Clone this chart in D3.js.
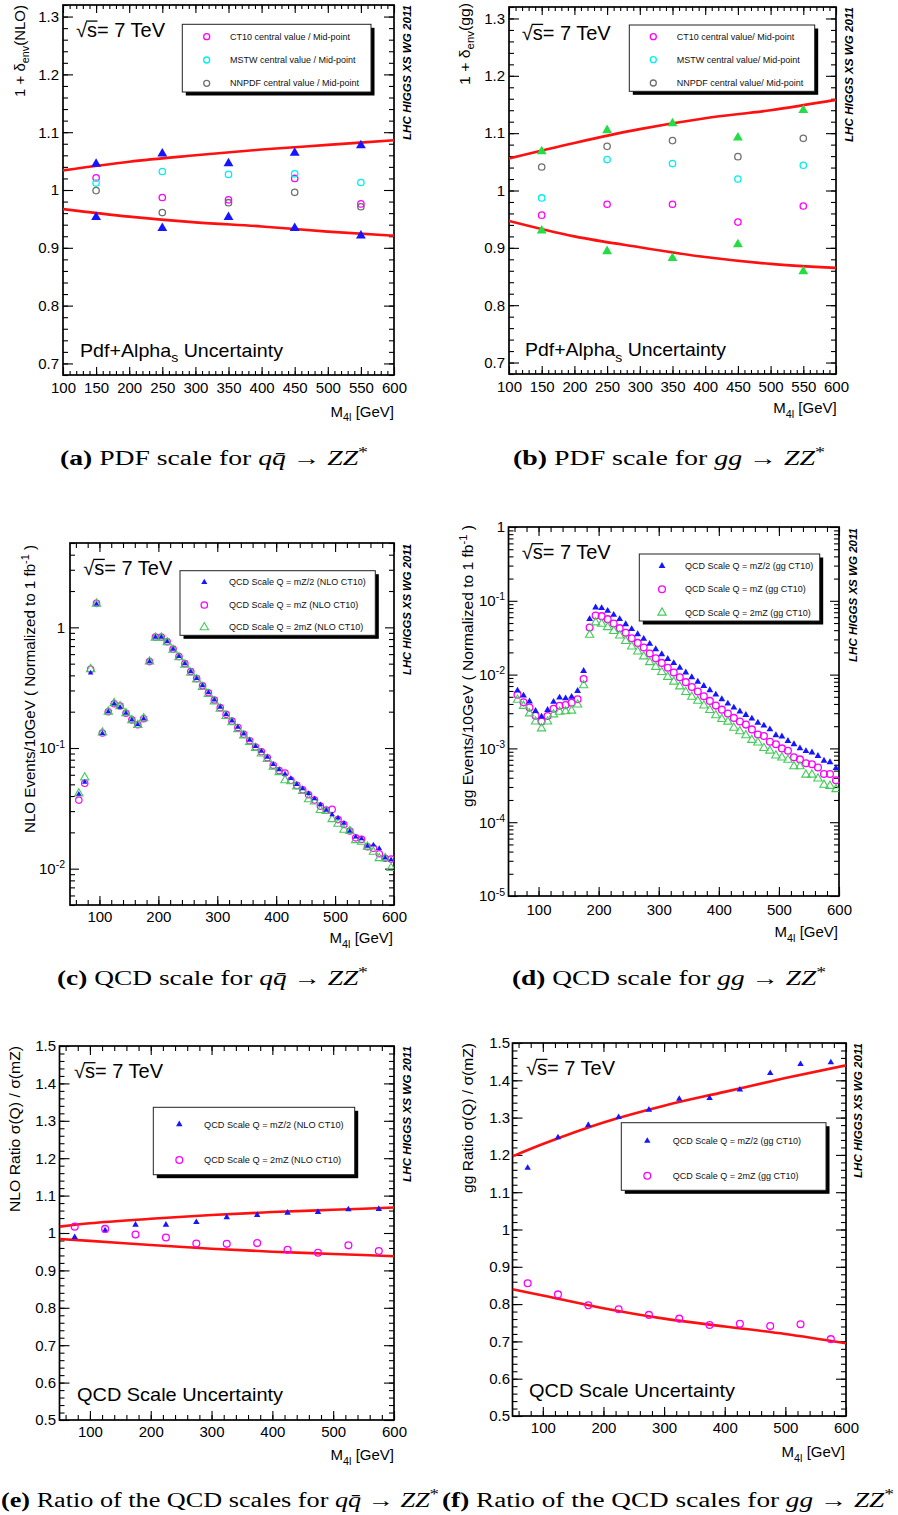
<!DOCTYPE html>
<html><head><meta charset="utf-8">
<script src="https://cdn.jsdelivr.net/npm/d3@7"></script>
<style>body{margin:0;background:#fff} svg{display:block}</style>
</head><body><script>
// ---------------- DATA ----------------
// (a) PDF, qqbar
const pdfMass = [150,250,350,450,550];
const qqEnvUp = [1.045,1.063,1.046,1.064,1.077];
const qqEnvDown = [0.953,0.934,0.953,0.934,0.921];
const qqCT10 = [1.021,0.987,0.983,1.020,0.976];
const qqMSTW = [1.012,1.032,1.027,1.028,1.013];
const qqNNPDF = [0.999,0.961,0.978,0.996,0.971];
const fitMassAB = [100,200,300,400,500,600];
const qqFitUp = [1.034,1.049,1.060,1.070,1.078,1.086];
const qqFitDown = [0.967,0.954,0.944,0.937,0.928,0.921];
// (b) PDF, gg
const ggEnvUp = [1.068,1.105,1.117,1.092,1.140];
const ggEnvDown = [0.930,0.894,0.882,0.906,0.859];
const ggCT10 = [0.957,0.976,0.976,0.945,0.973];
const ggMSTW = [0.987,1.054,1.047,1.020,1.044];
const ggNNPDF = [1.041,1.077,1.087,1.059,1.091];
const ggFitUp = [1.056,1.083,1.107,1.126,1.140,1.158];
const ggFitDown = [0.947,0.920,0.901,0.884,0.872,0.865];
// (c),(d) spectra, bin centres
const binMass = [65,75,85,95,105,115,125,135,145,155,165,175,185,195,205,215,225,235,245,255,265,275,285,295,305,315,325,335,345,355,365,375,385,395,405,415,425,435,445,455,465,475,485,495,505,515,525,535,545,555,565,575,585,595];
const qqHalf = [0.0415,0.052,0.42,1.56,0.132,0.20,0.233,0.218,0.194,0.171,0.156,0.175,0.52,0.83,0.83,0.76,0.66,0.574,0.50,0.43,0.377,0.328,0.287,0.25,0.218,0.19,0.168,0.149,0.131,0.116,0.103,0.094,0.084,0.073,0.066,0.061,0.056,0.050,0.046,0.042,0.038,0.034,0.0306,0.028,0.0263,0.0238,0.0205,0.0183,0.0177,0.0154,0.0157,0.0147,0.0123,0.0119];
const qqMZ = [0.037,0.051,0.45,1.58,0.133,0.20,0.233,0.223,0.194,0.171,0.156,0.175,0.52,0.83,0.83,0.76,0.66,0.574,0.50,0.43,0.377,0.328,0.287,0.25,0.216,0.19,0.167,0.148,0.130,0.115,0.102,0.093,0.083,0.072,0.065,0.062,0.054,0.049,0.045,0.041,0.037,0.033,0.0306,0.031,0.0255,0.0232,0.0205,0.0180,0.0175,0.0152,0.0148,0.0133,0.0122,0.0120];
const qqTwo = [0.042,0.057,0.45,1.57,0.134,0.20,0.235,0.222,0.194,0.170,0.155,0.176,0.52,0.82,0.82,0.75,0.65,0.565,0.49,0.42,0.37,0.32,0.28,0.243,0.211,0.184,0.163,0.143,0.127,0.112,0.100,0.090,0.081,0.070,0.063,0.054,0.053,0.048,0.044,0.0375,0.036,0.0306,0.030,0.0257,0.0235,0.021,0.0205,0.0172,0.0167,0.0152,0.0138,0.0122,0.0122,0.0101];
const ggHalf = [0.00607,0.00519,0.00433,0.00321,0.00270,0.00331,0.00428,0.00487,0.00476,0.00500,0.00601,0.0112,0.0564,0.0812,0.0795,0.0732,0.0646,0.0564,0.0482,0.0413,0.0353,0.0305,0.0261,0.0221,0.0189,0.0163,0.0143,0.0124,0.0107,0.0092,0.00802,0.00701,0.00613,0.00535,0.00464,0.00404,0.00357,0.00316,0.00284,0.00253,0.00223,0.00204,0.00181,0.00151,0.00145,0.00126,0.00114,0.00100,0.00092,0.00088,0.00079,0.00068,0.00065,0.00054];
const ggMZ = [0.00535,0.00421,0.00357,0.00277,0.00231,0.00275,0.00345,0.00379,0.00387,0.00416,0.00464,0.00872,0.0435,0.0632,0.0619,0.0564,0.0493,0.0426,0.0368,0.0311,0.0269,0.0233,0.0193,0.0166,0.0144,0.0124,0.0107,0.0092,0.0079,0.0068,0.0059,0.0051,0.0044,0.0038,0.00335,0.00297,0.00259,0.00231,0.00210,0.00181,0.00154,0.00147,0.00123,0.00114,0.00100,0.00093,0.00076,0.00071,0.00063,0.00061,0.00055,0.00045,0.00045,0.00037];
const ggTwo = [0.00455,0.00376,0.00297,0.00231,0.00186,0.00231,0.00288,0.00313,0.00317,0.00324,0.00392,0.00716,0.0345,0.0508,0.0487,0.0439,0.0388,0.0338,0.0284,0.0240,0.0205,0.0176,0.0147,0.0127,0.0108,0.0093,0.0080,0.0069,0.0058,0.0050,0.0044,0.0038,0.0033,0.0028,0.0025,0.0023,0.0019,0.0017,0.0015,0.0013,0.0012,0.00101,0.00093,0.00080,0.00075,0.00070,0.00057,0.00057,0.00044,0.00044,0.00039,0.00032,0.00031,0.00028];
// (e),(f) ratios
const ratioMass = [75,125,175,225,275,325,375,425,475,525,575];
const qqRatioHalf = [0.989,1.007,1.022,1.022,1.029,1.042,1.048,1.054,1.056,1.063,1.064];
const qqRatioTwo = [1.017,1.011,0.996,0.988,0.972,0.971,0.973,0.955,0.947,0.967,0.952];
const fitMassEF = [50,100,200,300,400,500,600];
const qqRatioFitUp = [1.017,1.026,1.038,1.048,1.056,1.062,1.068];
const qqRatioFitDown = [0.984,0.979,0.968,0.958,0.950,0.944,0.938];
const ggRatioHalf = [1.165,1.247,1.280,1.301,1.321,1.350,1.352,1.375,1.419,1.443,1.448];
const ggRatioTwo = [0.856,0.826,0.797,0.786,0.771,0.761,0.744,0.747,0.741,0.746,0.706];
const ggRatioFitUp = [1.196,1.229,1.287,1.332,1.369,1.406,1.440];
const ggRatioFitDown = [0.840,0.823,0.789,0.761,0.740,0.720,0.695];
// ticks
const xTicksPDF = [100,150,200,250,300,350,400,450,500,550,600];
const yTicksPDF = [0.7,0.8,0.9,1,1.1,1.2,1.3];
const xTicksQCD = [100,200,300,400,500,600];
const yTicksRatio = [0.5,0.6,0.7,0.8,0.9,1,1.1,1.2,1.3,1.4,1.5];
const logTicksC = [0.01,0.1,1];
const logTicksD = [1e-5,1e-4,1e-3,1e-2,1e-1,1];

// ---------------- DRAWING ----------------
const SANS = "'Liberation Sans', Arial, Helvetica, sans-serif";
const SERIF = "'Liberation Serif', 'Times New Roman', serif";
const BLUE="#1515ff", MAG="#ff00ff", CYAN="#00f0f0", GRAY="#707070", GREENF="#22dd44", GREENO="#44cc5a", RED="#ff1010";
const svg = d3.select("body").append("svg").attr("width",898).attr("height",1515);

function rich(parent, x, y, parts, o){
  const t = parent.append("text").attr("x",x).attr("y",y).attr("font-size",o.fs)
    .attr("font-family",o.ff||SANS).attr("text-anchor",o.anchor||"start").attr("fill","#000");
  if(o.rot) t.attr("transform",`rotate(-90,${x},${y})`);
  if(o.weight) t.attr("font-weight",o.weight);
  if(o.style) t.attr("font-style",o.style);
  let off=0;
  parts.forEach(p=>{
    const s = typeof p==="string"?[p]:p; const k=(s[1]||"").split(" ");
    let tgt=0, fs=null;
    if(k.includes("sub")){tgt=0.3*o.fs; fs=0.72*o.fs;}
    if(k.includes("sup")){tgt=-0.42*o.fs; fs=0.72*o.fs;}
    const ts=t.append("tspan").text(s[0]);
    if(tgt-off!==0) ts.attr("dy",tgt-off);
    off=tgt;
    if(fs) ts.attr("font-size",fs);
    if(k.includes("it")) ts.attr("font-style","italic");
    if(k.includes("bf")) ts.attr("font-weight","bold");
  });
  if(o.len) t.attr("textLength",o.len).attr("lengthAdjust","spacingAndGlyphs");
  return t;
}

function makePanel(c){
  const g = svg.append("g");
  const x = d3.scaleLinear().domain(c.xd).range([c.L,c.R]);
  const y = (c.log?d3.scaleLog():d3.scaleLinear()).domain(c.yd).range([c.B,c.T]);
  const st = s=>{ s.select(".domain").remove(); s.attr("font-family",SANS).attr("font-size",15);
    s.selectAll(".tick line").attr("stroke","#000").attr("stroke-width",1.1);
    s.selectAll("text").attr("fill","#000"); };
  const fmtLin = d => Math.abs(d-1)<1e-9 ? "1" : d.toFixed(1);
  const yMinor = c.log ? y.ticks().filter(v=>Math.abs(Math.log10(v)-Math.round(Math.log10(v)))>1e-6) : c.yMinor;
  g.append("g").attr("transform",`translate(0,${c.B})`).call(d3.axisBottom(x).tickValues(c.xMajor).tickSize(-c.xMaj).tickPadding(c.xPad).tickFormat(d3.format("d"))).call(st);
  g.append("g").attr("transform",`translate(0,${c.B})`).call(d3.axisBottom(x).tickValues(c.xMinor).tickSize(-c.xMin).tickFormat("")).call(st);
  g.append("g").attr("transform",`translate(0,${c.T})`).call(d3.axisTop(x).tickValues(c.xMajor).tickSize(-c.xMaj).tickFormat("")).call(st);
  g.append("g").attr("transform",`translate(0,${c.T})`).call(d3.axisTop(x).tickValues(c.xMinor).tickSize(-c.xMin).tickFormat("")).call(st);
  const yl = g.append("g").attr("transform",`translate(${c.L},0)`).call(d3.axisLeft(y).tickValues(c.yMajor).tickSize(-c.yMaj).tickPadding(c.yPad).tickFormat(c.log?()=>"":fmtLin)).call(st);
  if(c.log){
    yl.selectAll(".tick text").each(function(d){
      const t=d3.select(this); const e=Math.round(Math.log10(d));
      if(e===0) t.text("1");
      else { t.append("tspan").text("10"); t.append("tspan").attr("dy","-0.55em").attr("font-size","0.7em").text(e); }
    });
  }
  g.append("g").attr("transform",`translate(${c.L},0)`).call(d3.axisLeft(y).tickValues(yMinor).tickSize(-c.yMin).tickFormat("")).call(st);
  g.append("g").attr("transform",`translate(${c.R},0)`).call(d3.axisRight(y).tickValues(c.yMajor).tickSize(-c.yMaj).tickFormat("")).call(st);
  g.append("g").attr("transform",`translate(${c.R},0)`).call(d3.axisRight(y).tickValues(yMinor).tickSize(-c.yMin).tickFormat("")).call(st);
  g.append("rect").attr("x",c.L).attr("y",c.T).attr("width",c.R-c.L).attr("height",c.B-c.T)
    .attr("fill","none").attr("stroke","#000").attr("stroke-width",1.7);
  const cid = "clip"+c.id;
  svg.append("clipPath").attr("id",cid).append("rect").attr("x",c.L).attr("y",c.T).attr("width",c.R-c.L).attr("height",c.B-c.T);
  const data = svg.append("g").attr("clip-path",`url(#${cid})`);
  return {x,y,data};
}

function line(P, xs, ys){
  P.data.append("path").datum(xs.map((m,i)=>[m,ys[i]]))
    .attr("d", d3.line().x(d=>P.x(d[0])).y(d=>P.y(d[1])).curve(d3.curveMonotoneX))
    .attr("fill","none").attr("stroke",RED).attr("stroke-width",2.6);
}
function tris(P, xs, ys, o){
  P.data.selectAll(null).data(xs.map((m,i)=>[m,ys[i]])).join("path")
    .attr("transform",d=>`translate(${P.x(d[0])},${P.y(d[1])})`)
    .attr("d", d3.symbol(d3.symbolTriangle, o.size))
    .attr("fill", o.fill||"none").attr("stroke", o.stroke||"none").attr("stroke-width", o.sw||1);
}
function circs(P, xs, ys, o){
  P.data.selectAll(null).data(xs.map((m,i)=>[m,ys[i]])).join("circle")
    .attr("cx",d=>P.x(d[0])).attr("cy",d=>P.y(d[1])).attr("r",o.r)
    .attr("fill","none").attr("stroke",o.stroke).attr("stroke-width",o.sw||1.3);
}
function legend(b, entries){
  const g=svg.append("g");
  g.append("rect").attr("x",b.L+3.5).attr("y",b.T+3.5).attr("width",b.R-b.L-3).attr("height",b.B-b.T-3).attr("fill","#000");
  g.append("rect").attr("x",b.L).attr("y",b.T).attr("width",b.R-b.L-3).attr("height",b.B-b.T-3).attr("fill","#fff").attr("stroke","#222").attr("stroke-width",1);
  entries.forEach(e=>{
    if(e.m==="c") g.append("circle").attr("cx",b.mx).attr("cy",e.y).attr("r",e.r).attr("fill","none").attr("stroke",e.col).attr("stroke-width",1.3);
    else g.append("path").attr("transform",`translate(${b.mx},${e.y})`).attr("d",d3.symbol(d3.symbolTriangle,e.size)())
      .attr("fill",e.m==="tf"?e.col:"none").attr("stroke",e.m==="tf"?"none":e.col).attr("stroke-width",1.1);
    g.append("text").attr("x",b.tx).attr("y",e.y).attr("dy","0.35em").attr("font-family",SANS).attr("font-size",b.fs).attr("fill","#111").text(e.label);
  });
}
function sqrtS(x,y,fs){
  const t = rich(svg,x,y,["√s= 7 TeV"],{fs,len:89});
  const n=t.node(); const e0=n.getExtentOfChar(0), e1=n.getExtentOfChar(1);
  svg.append("line").attr("x1",e0.x+e0.width-1).attr("x2",e1.x+e1.width+0.5)
    .attr("y1",y-0.80*fs).attr("y2",y-0.80*fs).attr("stroke","#000").attr("stroke-width",1.3);
}
function watermark(x,yBottom,len){
  rich(svg,x,yBottom,["LHC HIGGS XS WG 2011"],{fs:11,rot:true,weight:"bold",style:"italic",len});
}
const xTitle = (x,y)=>rich(svg,x,y,["M",["4l","sub"]," [GeV]"],{fs:15,anchor:"end"});

// ---------- panel (a) ----------
const A = makePanel({id:"a",L:63,R:394,T:5,B:375,xd:[100,600],yd:[0.68,1.32],
  xMajor:xTicksPDF,xMinor:d3.range(100,601,10),yMajor:yTicksPDF,yMinor:d3.range(0.68,1.3201,0.02),
  xMaj:8,xMin:4,yMaj:10,yMin:5,xPad:7,yPad:4});
line(A,fitMassAB,qqFitUp); line(A,fitMassAB,qqFitDown);
tris(A,pdfMass,qqEnvUp,{size:42,fill:BLUE}); tris(A,pdfMass,qqEnvDown,{size:42,fill:BLUE});
circs(A,pdfMass,qqCT10,{r:3.2,stroke:MAG}); circs(A,pdfMass,qqMSTW,{r:3.2,stroke:CYAN}); circs(A,pdfMass,qqNNPDF,{r:3.2,stroke:GRAY});
legend({L:182.3,T:24.3,R:374,B:95,mx:206.7,tx:230,fs:9},[
  {m:"c",r:3,col:MAG,y:36.7,label:"CT10 central value / Mid-point"},
  {m:"c",r:3,col:CYAN,y:60,label:"MSTW central value / Mid-point"},
  {m:"c",r:3,col:GRAY,y:83.3,label:"NNPDF central value / Mid-point"}]);
sqrtS(76,36.7,19.5);
rich(svg,80,356.7,["Pdf+Alpha",["s","sub"]," Uncertainty"],{fs:19,len:203});
rich(svg,24.5,97,["1 + δ",["env","sub"],"(NLO)"],{fs:14,rot:true,len:92});
xTitle(394,416.7);
watermark(411,140,135);

// ---------- panel (b) ----------
const B = makePanel({id:"b",L:509,R:836,T:7,B:374,xd:[100,600],yd:[0.68,1.32],
  xMajor:xTicksPDF,xMinor:d3.range(100,601,10),yMajor:yTicksPDF,yMinor:d3.range(0.68,1.3201,0.02),
  xMaj:8,xMin:4,yMaj:10,yMin:5,xPad:7,yPad:4});
line(B,fitMassAB,ggFitUp); line(B,fitMassAB,ggFitDown);
tris(B,pdfMass,ggEnvUp,{size:42,fill:GREENF}); tris(B,pdfMass,ggEnvDown,{size:42,fill:GREENF});
circs(B,pdfMass,ggCT10,{r:3.2,stroke:MAG}); circs(B,pdfMass,ggMSTW,{r:3.2,stroke:CYAN}); circs(B,pdfMass,ggNNPDF,{r:3.2,stroke:GRAY});
legend({L:629.3,T:25,R:817.7,B:94.3,mx:653.3,tx:676.7,fs:9},[
  {m:"c",r:3,col:MAG,y:36.7,label:"CT10 central value/ Mid-point"},
  {m:"c",r:3,col:CYAN,y:59.7,label:"MSTW central value/ Mid-point"},
  {m:"c",r:3,col:GRAY,y:83,label:"NNPDF central value/ Mid-point"}]);
sqrtS(521.7,40,19.5);
rich(svg,525,356,["Pdf+Alpha",["s","sub"]," Uncertainty"],{fs:19,len:201});
rich(svg,470,85,["1 + δ",["env","sub"],"(gg)"],{fs:14,rot:true,len:82});
xTitle(836.7,413);
watermark(853,142,135);

// ---------- panel (c) ----------
const C = makePanel({id:"c",L:70,R:394,T:543,B:905,xd:[50,600],yd:[0.005,5],log:true,
  xMajor:xTicksQCD,xMinor:d3.range(60,601,20),yMajor:logTicksC,
  xMaj:9,xMin:5,yMaj:9,yMin:5,xPad:6,yPad:5});
circs(C,binMass,qqMZ,{r:3.2,stroke:MAG,sw:1.2});
tris(C,binMass,qqTwo,{size:30,stroke:GREENO,sw:1.1});
tris(C,binMass,qqHalf,{size:13,fill:BLUE});
legend({L:180,T:570.7,R:378.3,B:638.3,mx:204.3,tx:229,fs:9},[
  {m:"tf",size:16,col:BLUE,y:582.3,label:"QCD Scale Q = mZ/2 (NLO CT10)"},
  {m:"c",r:3.2,col:MAG,y:605,label:"QCD Scale Q = mZ (NLO CT10)"},
  {m:"to",size:30,col:GREENO,y:627.3,label:"QCD Scale Q = 2mZ (NLO CT10)"}]);
sqrtS(83.3,575,19.5);
rich(svg,35,833,["NLO Events/10GeV ( Normalized to 1 fb",["-1","sup"]," )"],{fs:14,rot:true,len:288});
xTitle(393,943);
watermark(411,675,131);

// ---------- panel (d) ----------
const D = makePanel({id:"d",L:508.5,R:839,T:527,B:896,xd:[50,600],yd:[1e-5,1],log:true,
  xMajor:xTicksQCD,xMinor:d3.range(60,601,20),yMajor:logTicksD,
  xMaj:9,xMin:5,yMaj:9,yMin:5,xPad:8,yPad:3.5});
circs(D,binMass,ggMZ,{r:3.4,stroke:MAG,sw:1.3});
tris(D,binMass,ggTwo,{size:30,stroke:GREENO,sw:1.1});
tris(D,binMass,ggHalf,{size:20,fill:BLUE});
legend({L:639.3,T:554,R:822.7,B:624,mx:662,tx:685,fs:9},[
  {m:"tf",size:20,col:BLUE,y:566,label:"QCD Scale Q = mZ/2 (gg CT10)"},
  {m:"c",r:3.4,col:MAG,y:589.3,label:"QCD Scale Q = mZ (gg CT10)"},
  {m:"to",size:30,col:GREENO,y:612.7,label:"QCD Scale Q = 2mZ (gg CT10)"}]);
sqrtS(521.7,559.3,19.5);
rich(svg,473,807,["gg Events/10GeV ( Normalized to 1 fb",["-1","sup"]," )"],{fs:14,rot:true,len:282});
xTitle(838,937);
watermark(857,662,134);

// ---------- panel (e) ----------
const E = makePanel({id:"e",L:59.5,R:394,T:1046,B:1420,xd:[50,600],yd:[0.5,1.5],
  xMajor:xTicksQCD,xMinor:d3.range(60,601,20),yMajor:yTicksRatio,yMinor:d3.range(0.5,1.5001,0.02),
  xMaj:9,xMin:5,yMaj:10,yMin:5,xPad:6.5,yPad:3.5});
line(E,fitMassEF,qqRatioFitUp); line(E,fitMassEF,qqRatioFitDown);
tris(E,ratioMass,qqRatioHalf,{size:18,fill:BLUE});
circs(E,ratioMass,qqRatioTwo,{r:3.4,stroke:MAG});
legend({L:153.3,T:1107.3,R:357.7,B:1177.7,mx:179.3,tx:204,fs:9.2},[
  {m:"tf",size:18,col:BLUE,y:1124.3,label:"QCD Scale Q = mZ/2 (NLO CT10)"},
  {m:"c",r:3.4,col:MAG,y:1160,label:"QCD Scale Q = 2mZ (NLO CT10)"}]);
sqrtS(74,1078.3,19.5);
rich(svg,77,1400.7,["QCD Scale Uncertainty"],{fs:19,len:206});
rich(svg,20,1212,["NLO Ratio σ(Q) / σ(mZ)"],{fs:14,rot:true,len:166});
xTitle(394,1460);
watermark(411,1182,136);

// ---------- panel (f) ----------
const F = makePanel({id:"f",L:512.5,R:846,T:1043,B:1416,xd:[50,600],yd:[0.5,1.5],
  xMajor:xTicksQCD,xMinor:d3.range(60,601,20),yMajor:yTicksRatio,yMinor:d3.range(0.5,1.5001,0.02),
  xMaj:9,xMin:5,yMaj:10,yMin:5,xPad:6.5,yPad:2.5});
line(F,fitMassEF,ggRatioFitUp); line(F,fitMassEF,ggRatioFitDown);
tris(F,ratioMass,ggRatioHalf,{size:18,fill:BLUE});
circs(F,ratioMass,ggRatioTwo,{r:3.4,stroke:MAG});
legend({L:621.3,T:1122.7,R:829,B:1193.3,mx:647.3,tx:672.7,fs:9},[
  {m:"tf",size:18,col:BLUE,y:1141,label:"QCD Scale Q = mZ/2 (gg CT10)"},
  {m:"c",r:3.4,col:MAG,y:1175.7,label:"QCD Scale Q = 2mZ (gg CT10)"}]);
sqrtS(526,1075,19.5);
rich(svg,529,1396.7,["QCD Scale Uncertainty"],{fs:19,len:206});
rich(svg,473,1193,["gg Ratio σ(Q) / σ(mZ)"],{fs:14,rot:true,len:150});
xTitle(845,1457);
watermark(862,1178,135);

// ---------- captions ----------
const capFS = 20;
rich(svg,60,465,[["(a)","bf"]," PDF scale for ",["q","it"],["q̄","it"]," → ",["ZZ","it"],["*","sup"]],{fs:capFS,ff:SERIF,len:308});
rich(svg,513,465,[["(b)","bf"]," PDF scale for ",["gg","it"]," → ",["ZZ","it"],["*","sup"]],{fs:capFS,ff:SERIF,len:312});
rich(svg,57,985,[["(c)","bf"]," QCD scale for ",["q","it"],["q̄","it"]," → ",["ZZ","it"],["*","sup"]],{fs:capFS,ff:SERIF,len:311});
rich(svg,512,985,[["(d)","bf"]," QCD scale for ",["gg","it"]," → ",["ZZ","it"],["*","sup"]],{fs:capFS,ff:SERIF,len:314});
rich(svg,1,1507,[["(e)","bf"]," Ratio of the QCD scales for ",["q","it"],["q̄","it"]," → ",["ZZ","it"],["*","sup"]],{fs:capFS,ff:SERIF,len:438});
rich(svg,442,1507,[["(f)","bf"]," Ratio of the QCD scales for ",["gg","it"]," → ",["ZZ","it"],["*","sup"]],{fs:capFS,ff:SERIF,len:452});
</script></body></html>
